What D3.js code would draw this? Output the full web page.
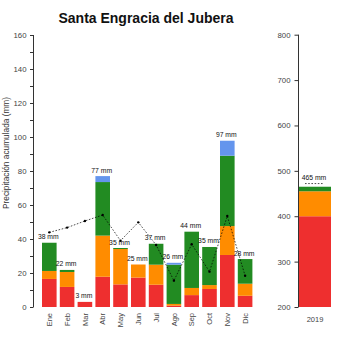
<!DOCTYPE html>
<html>
<head>
<meta charset="utf-8">
<script src="https://cdn.jsdelivr.net/npm/d3@7"></script>
<style>
  html, body { margin: 0; padding: 0; background: #ffffff; }
  svg { display: block; font-family: "Liberation Sans", Arial, sans-serif; }
</style>
</head>
<body>
<svg id="chart" width="350" height="350"></svg>
<script>
// ---- data ----
const months = ["Ene","Feb","Mar","Abr","May","Jun","Jul","Ago","Sep","Oct","Nov","Dic"];
const redVals    = [16.5, 11.8, 3.0, 17.8, 13.3, 17.3, 13.1, 0.8, 7.0, 10.6, 30.6, 6.6];
const orangeVals = [4.7, 8.8, 0.0, 24.2, 20.8, 7.7, 11.8, 1.0, 4.2, 2.3, 17.0, 7.1];
const greenVals  = [16.6, 1.2, 0.0, 31.5, 0.6, 0.0, 12.3, 23.1, 33.1, 22.4, 41.4, 14.5];
const blueVals   = [0.0, 0.0, 0.0, 3.5, 0.0, 0.0, 0.0, 1.1, 0.0, 0.0, 8.8, 0.0];
const totalLabels = [38, 22, 3, 77, 35, 25, 37, 26, 44, 35, 97, 28];
const meanVals   = [43.9, 46.7, 50.6, 54.1, 39.0, 49.8, 36.5, 15.5, 36.9, 20.8, 53.5, 18.4];
const leftTicks  = [0, 20, 40, 60, 80, 100, 120, 140, 160];

const years = ["2019"];
const annualRed = [400];
const annualOrange = [55];
const annualGreen = [10];
const annualTotal = [465];
const annualMean = [472];
const rightTicks = [200, 300, 400, 500, 600, 700, 800];

const colors = { red: "#EE2F2F", orange: "#FF8C00", green: "#228B22", blue: "#6495ED" };
const seriesKeys = ["red","orange","green","blue"];

// ---- setup ----
const svg = d3.select("#chart");
const axisColor = "#333";
const tickTextColor = "#444";

// title
svg.append("text")
  .attr("x", 146).attr("y", 23)
  .attr("text-anchor", "middle")
  .attr("font-size", 14).attr("font-weight", "bold")
  .attr("fill", "#111")
  .text("Santa Engracia del Jubera");

// y-axis title
svg.append("text")
  .attr("transform", "translate(9,153) rotate(-90)")
  .attr("text-anchor", "middle")
  .attr("font-size", 8.3)
  .attr("fill", "#333")
  .text("Precipitación acumulada (mm)");

// ---- left panel ----
const y = d3.scaleLinear().domain([0, 160]).range([307, 35]);
const x = d3.scaleBand().domain(months).range([40.4, 254]).paddingInner(0.18).paddingOuter(0.09);

const rows = months.map((m, i) => ({
  month: m, red: redVals[i], orange: orangeVals[i], green: greenVals[i], blue: blueVals[i]
}));
const stacked = d3.stack().keys(seriesKeys)(rows);

svg.append("g").selectAll("g").data(stacked).join("g")
  .attr("fill", d => colors[d.key])
  .selectAll("rect").data(d => d).join("rect")
  .attr("x", d => x(d.data.month))
  .attr("width", x.bandwidth())
  .attr("y", d => y(d[1]))
  .attr("height", d => Math.max(0, y(d[0]) - y(d[1])));

// left axis
const leftAxis = d3.axisLeft(y).tickValues(d3.range(0, 161, 10)).tickSize(3.5)
  .tickFormat(d => leftTicks.includes(d) ? d : "");
const gl = svg.append("g").attr("transform", "translate(33.5,0)").call(leftAxis);
gl.select(".domain").attr("stroke", axisColor).attr("d", "M0," + y(160) + "V" + y(0));
gl.selectAll(".tick line").attr("stroke", axisColor);
gl.selectAll(".tick text").attr("font-size", 7.8).attr("fill", tickTextColor).attr("x", -7)
  .attr("font-family", "'Liberation Sans', Arial, sans-serif");

// month labels
svg.append("g").selectAll("text").data(months).join("text")
  .attr("transform", d => `translate(${x(d) + x.bandwidth() / 2 + 2.6},313) rotate(-90)`)
  .attr("text-anchor", "end")
  .attr("font-size", 7.5)
  .attr("fill", tickTextColor)
  .text(d => d);

// mean dashed line
const line = d3.line()
  .x((d, i) => x(months[i]) + x.bandwidth() / 2)
  .y(d => y(d));
svg.append("path").datum(meanVals)
  .attr("d", line)
  .attr("fill", "none").attr("stroke", "#000")
  .attr("stroke-width", 0.7).attr("stroke-dasharray", "1.6,1.6");
svg.append("g").selectAll("circle").data(meanVals).join("circle")
  .attr("cx", (d, i) => x(months[i]) + x.bandwidth() / 2)
  .attr("cy", d => y(d))
  .attr("r", 1.2).attr("fill", "#000");

// total labels
const totals = rows.map(r => r.red + r.orange + r.green + r.blue);
svg.append("g").selectAll("text").data(totalLabels).join("text")
  .attr("x", (d, i) => x(months[i]) + x.bandwidth() / 2 - 1)
  .attr("y", (d, i) => y(totals[i]) - 3.5)
  .attr("text-anchor", "middle")
  .attr("font-size", 6.8)
  .attr("fill", "#111")
  .text(d => d + " mm");

// ---- right panel ----
const y2 = d3.scaleLinear().domain([200, 800]).range([307, 34.7]);
const x2 = d3.scaleBand().domain(years).range([299, 331]).padding(0);

const annualRows = years.map((yr, i) => ({ year: yr, red: annualRed[i], orange: annualOrange[i], green: annualGreen[i] }));
const stacked2 = d3.stack().keys(["red","orange","green"])(annualRows);
svg.append("g").selectAll("g").data(stacked2).join("g")
  .attr("fill", d => colors[d.key])
  .selectAll("rect").data(d => d).join("rect")
  .attr("x", d => x2(d.data.year))
  .attr("width", x2.bandwidth())
  .attr("y", d => y2(d[1]))
  .attr("height", d => Math.max(0, y2(Math.max(200, d[0])) - y2(d[1])));

const rightAxis = d3.axisLeft(y2).tickValues(rightTicks).tickSize(4);
const gr = svg.append("g").attr("transform", "translate(298.5,0)").call(rightAxis);
gr.select(".domain").attr("stroke", axisColor).attr("d", "M0," + y2(800) + "V" + y2(200));
gr.selectAll(".tick line").attr("stroke", axisColor);
gr.selectAll(".tick text").attr("font-size", 7.8).attr("fill", tickTextColor).attr("x", -8)
  .attr("font-family", "'Liberation Sans', Arial, sans-serif");

// annual label + mean mark
svg.append("g").selectAll("text").data(annualTotal).join("text")
  .attr("x", (d, i) => x2(years[i]) + x2.bandwidth() / 2 - 1)
  .attr("y", d => y2(d) - 7)
  .attr("text-anchor", "middle")
  .attr("font-size", 6.8).attr("fill", "#111")
  .text(d => d + " mm");
svg.append("g").selectAll("line").data(annualMean).join("line")
  .attr("x1", (d, i) => x2(years[i]) + 6)
  .attr("x2", (d, i) => x2(years[i]) + 24)
  .attr("y1", d => y2(d)).attr("y2", d => y2(d))
  .attr("stroke", "#000").attr("stroke-width", 0.7).attr("stroke-dasharray", "1.6,1.6");

svg.append("g").selectAll("text").data(years).join("text")
  .attr("x", d => x2(d) + x2.bandwidth() / 2)
  .attr("y", 322)
  .attr("text-anchor", "middle")
  .attr("font-size", 7.5).attr("fill", tickTextColor)
  .text(d => d);
</script>
</body>
</html>
